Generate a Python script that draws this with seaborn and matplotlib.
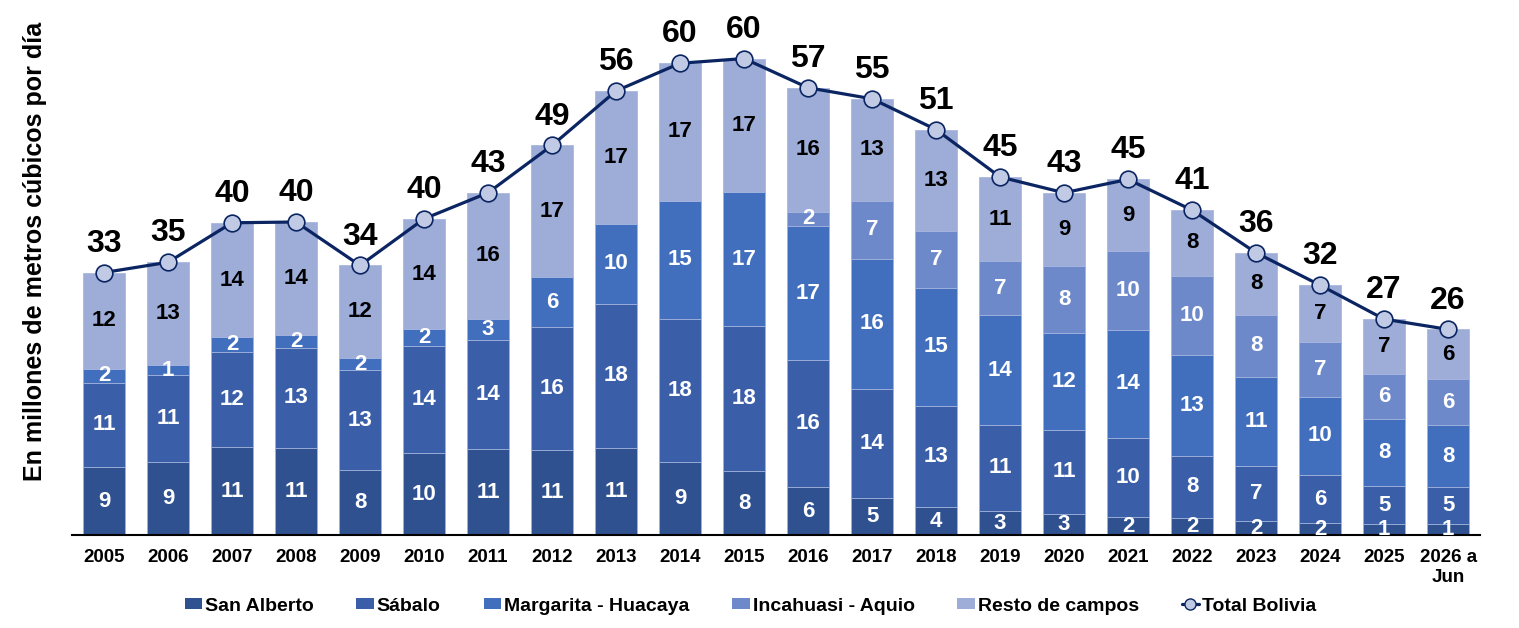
"""
Producción de gas natural en Bolivia por campo, 2005 - 2026 (a junio).
Barras apiladas por campo + línea del total.
"""

import numpy as np
import matplotlib
matplotlib.use("Agg")
import matplotlib.pyplot as plt
from matplotlib.patches import Patch
from matplotlib.lines import Line2D
import seaborn as sns


# ---------------------------------------------------------------------------
# Datos (millones de m3 por día)
# ---------------------------------------------------------------------------
years = ["2005", "2006", "2007", "2008", "2009", "2010", "2011", "2012",
         "2013", "2014", "2015", "2016", "2017", "2018", "2019", "2020",
         "2021", "2022", "2023", "2024", "2025", "2026 a\nJun"]

san_alberto = [8.7, 9.3, 11.2, 11.1, 8.3, 10.4, 11.0, 10.8, 11.1, 9.3, 8.2,
               6.1, 4.7, 3.6, 3.1, 2.7, 2.4, 2.2, 1.8, 1.6, 1.4, 1.4]
sabalo = [10.6, 11.0, 12.1, 12.7, 12.6, 13.6, 13.8, 15.6, 18.2, 18.1, 18.3,
          16.1, 13.9, 12.8, 10.9, 10.7, 10.0, 7.9, 7.0, 6.0, 4.9, 4.7]
margarita = [1.8, 1.3, 1.8, 1.6, 1.6, 2.1, 2.6, 6.3, 10.2, 15.0, 17.0,
             17.0, 16.4, 15.0, 13.9, 12.3, 13.6, 12.7, 11.3, 10.0, 8.4, 7.9]
incahuasi = [0, 0, 0, 0, 0, 0, 0, 0, 0, 0, 0,
             1.8, 7.4, 7.1, 6.8, 8.4, 10.0, 10.1, 7.8, 6.9, 5.8, 5.8]
resto = [12.2, 13.0, 14.5, 14.3, 11.7, 14.0, 16.0, 16.7, 16.8, 17.4, 16.9,
         15.7, 12.9, 12.9, 10.7, 9.3, 9.1, 8.3, 7.9, 7.2, 6.9, 6.3]

series_names = ["San Alberto", "Sábalo", "Margarita - Huacaya",
                "Incahuasi - Aquio", "Resto de campos"]
colors = ["#2F5190", "#3A5EA7", "#416EBD", "#6E89CA", "#9EADD8"]
label_colors = ["white", "white", "white", "white", "black"]
line_color = "#0B2462"
marker_fill = "#C0CAE5"


sns.set_theme(style="white")
plt.rcParams["font.family"] = ["Liberation Sans", "DejaVu Sans"]
plt.rcParams["font.weight"] = "bold"
for key in ["text.color", "axes.labelcolor", "xtick.color", "ytick.color"]:
    plt.rcParams[key] = "black"

fig = plt.figure(figsize=(15.19, 6.28), dpi=100)
ax = fig.add_axes([0.0474, 0.1473, 0.927, 0.845])

layers = np.array([san_alberto, sabalo, margarita, incahuasi, resto])
cum = np.cumsum(layers, axis=0)
total = cum[-1]
x = np.arange(len(years))

# draw from the tallest cumulative layer down so each segment shows
for i in range(len(series_names) - 1, -1, -1):
    sns.barplot(x=years, y=cum[i], color=colors[i], width=0.66,
                saturation=1, edgecolor="#A9B8E0", linewidth=0.6, ax=ax)

# segment labels
for i in range(len(series_names)):
    for j in range(len(years)):
        v = layers[i, j]
        if v <= 0:
            continue
        ax.text(x[j], cum[i, j] - v / 2, f"{v:.0f}", ha="center", va="center",
                fontsize=16, fontweight="bold", color=label_colors[i])

# total line
sns.lineplot(x=x, y=total, sort=False, color=line_color, linewidth=2.3,
             marker="o", markersize=12, markerfacecolor=marker_fill,
             markeredgecolor=line_color, markeredgewidth=1.2, ax=ax)
for j in range(len(years)):
    ax.annotate(f"{total[j]:.0f}", (x[j], total[j]), xytext=(0, 10),
                textcoords="offset points", ha="center", va="bottom",
                fontsize=23, fontweight="bold", color="black")

ax.set_xlim(-0.5, len(years) - 0.5)
ax.set_ylim(0, 67.2)
ax.set_yticks([])
ax.set_xlabel("")
ax.set_ylabel("")
ax.tick_params(axis="x", length=0, pad=10, labelsize=13.5)
for lbl in ax.get_xticklabels():
    lbl.set_fontweight("bold")
for side in ["top", "right", "left"]:
    ax.spines[side].set_visible(False)
ax.spines["bottom"].set_color("black")
ax.spines["bottom"].set_linewidth(1.5)

fig.text(0.023, 1 - 251 / 628, "En millones de metros cúbicos por día",
         rotation=90, ha="center", va="center", fontsize=18,
         fontweight="bold")

handles = [Patch(facecolor=c, edgecolor="none") for c in colors]
handles.append(Line2D([0], [0], color=line_color, linewidth=2.3, marker="o",
                      markersize=8, markerfacecolor=marker_fill,
                      markeredgecolor=line_color))
fig.legend(handles, series_names + ["Total Bolivia"], loc="center",
           bbox_to_anchor=(0.494, 0.035), ncol=6, frameon=False,
           fontsize=14, handlelength=0.9, handleheight=0.55,
           handletextpad=0.15, columnspacing=2.2)

plt.savefig("out.png", dpi=100)
plt.close()
